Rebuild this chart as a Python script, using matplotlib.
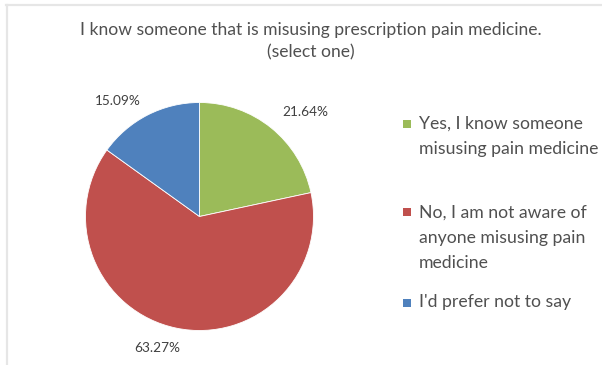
import matplotlib
matplotlib.use("Agg")
import matplotlib.pyplot as plt
from matplotlib.patches import Rectangle
from matplotlib.lines import Line2D

title = "I know someone that is misusing prescription pain medicine.\n(select one)"
categories = [
    "Yes, I know someone\nmisusing pain medicine",
    "No, I am not aware of\nanyone misusing pain\nmedicine",
    "I'd prefer not to say",
]
values = [21.64, 63.27, 15.09]
colors = ["#9BBB59", "#C0504D", "#4F81BD"]

W, H = 602, 365
fig = plt.figure(figsize=(W / 100, H / 100), dpi=100)
plt.rcParams["font.family"] = ["Lato", "DejaVu Sans"]

# light frame lines along top and left edge
fig.add_artist(Line2D([6 / W, 1], [1 - 4.5 / H, 1 - 4.5 / H], color="#e6e6e6", lw=1.6,
                      transform=fig.transFigure))
fig.add_artist(Line2D([6.5 / W, 6.5 / W], [0, 1 - 4.5 / H], color="#e6e6e6", lw=1.6,
                      transform=fig.transFigure))

fig.text(311 / W, 1 - 41 / H, title, ha="center", va="center", fontsize=12.6,
         color="#505050", linespacing=1.45)

# pie axes, centred at (199.5, 216.5) px with radius 114 px
cx, cy, r = 199.5, 216.5, 114
ax = fig.add_axes([(cx - r) / W, (H - cy - r) / H, 2 * r / W, 2 * r / H])
wedges, _ = ax.pie(values, colors=colors, startangle=90, counterclock=False,
                   wedgeprops=dict(edgecolor="white", linewidth=0.6))
ax.set_xlim(-1, 1)
ax.set_ylim(-1, 1)
ax.set_axis_off()

# data label positions (in pie radius units)
label_pos = [(0.93, 0.92), (-0.37, -1.15), (-0.72, 1.01)]
for v, (lx, ly) in zip(values, label_pos):
    ax.text(lx, ly, f"{v:.2f}%", ha="center", va="center", fontsize=9.8,
            color="#404040", clip_on=False)

# legend
legend_y = [136.5, 237.5, 302]
line_gap = 25.5
for lab, col, y in zip(categories, colors, legend_y):
    n = lab.count("\n") + 1
    top = y - (n - 1) * line_gap / 2
    fig.add_artist(Rectangle((402.5 / W, 1 - (top + 4.5) / H), 8 / W, 8 / H,
                             facecolor=col, edgecolor="none", transform=fig.transFigure))
    fig.text(419 / W, 1 - y / H, lab, ha="left", va="center", fontsize=12.7,
             color="#505050", linespacing=1.7)

fig.savefig("out.png", dpi=100, facecolor="white")
